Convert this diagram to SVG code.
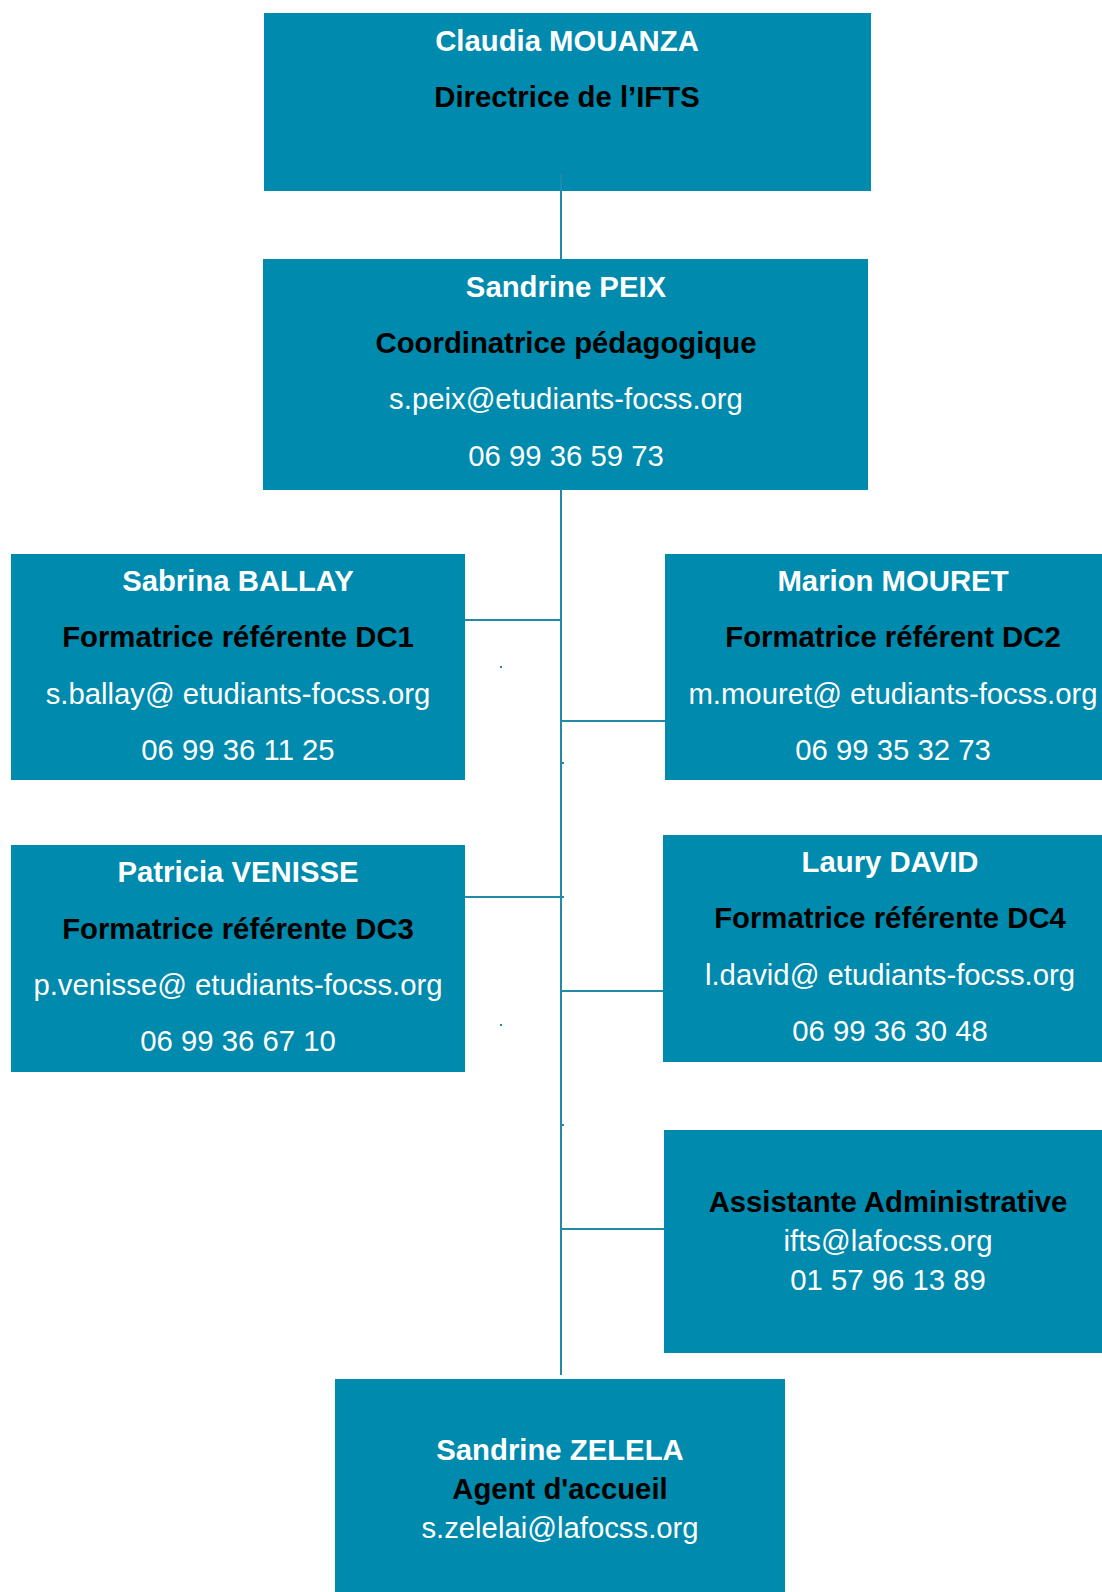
<svg xmlns="http://www.w3.org/2000/svg" width="1102" height="1592" viewBox="0 0 1102 1592">
<style>
.box{fill:#008aad}
.t{font-family:"Liberation Sans",Arial,sans-serif;font-size:29.3px;text-anchor:middle}
.n{fill:#ffffff;font-weight:bold}
.r{fill:#000000;font-weight:bold}
.c{fill:#ffffff}
.ln{stroke:#2289a8;stroke-width:2;fill:none}
.dot{fill:#2289a8}
</style>
<rect width="1102" height="1592" fill="#ffffff"/>
<g id="node-mouanza">
<rect class="box" x="264" y="13" width="607" height="178"/>
<text class="t n" x="567" y="51">Claudia MOUANZA</text>
<text class="t r" x="567" y="107">Directrice de l’IFTS</text>
</g>
<g id="node-peix">
<rect class="box" x="263" y="259" width="605" height="231"/>
<text class="t n" x="566" y="297">Sandrine PEIX</text>
<text class="t r" x="566" y="353">Coordinatrice pédagogique</text>
<text class="t c" x="566" y="409">s.peix@etudiants-focss.org</text>
<text class="t c" x="566" y="466">06 99 36 59 73</text>
</g>
<g id="node-ballay">
<rect class="box" x="11" y="554" width="454" height="226"/>
<text class="t n" x="238" y="591">Sabrina BALLAY</text>
<text class="t r" x="238" y="647">Formatrice référente DC1</text>
<text class="t c" x="238" y="704">s.ballay@ etudiants-focss.org</text>
<text class="t c" x="238" y="760">06 99 36 11 25</text>
</g>
<g id="node-mouret">
<rect class="box" x="665" y="554" width="437" height="226"/>
<text class="t n" x="893" y="591">Marion MOURET</text>
<text class="t r" x="893" y="647">Formatrice référent DC2</text>
<text class="t c" x="893" y="704">m.mouret@ etudiants-focss.org</text>
<text class="t c" x="893" y="760">06 99 35 32 73</text>
</g>
<g id="node-venisse">
<rect class="box" x="11" y="845" width="454" height="227"/>
<text class="t n" x="238" y="882">Patricia VENISSE</text>
<text class="t r" x="238" y="939">Formatrice référente DC3</text>
<text class="t c" x="238" y="995">p.venisse@ etudiants-focss.org</text>
<text class="t c" x="238" y="1051">06 99 36 67 10</text>
</g>
<g id="node-david">
<rect class="box" x="663" y="835" width="439" height="227"/>
<text class="t n" x="890" y="872">Laury DAVID</text>
<text class="t r" x="890" y="928">Formatrice référente DC4</text>
<text class="t c" x="890" y="985">l.david@ etudiants-focss.org</text>
<text class="t c" x="890" y="1041">06 99 36 30 48</text>
</g>
<g id="node-assistante">
<rect class="box" x="664" y="1130" width="438" height="223"/>
<text class="t r" x="888" y="1212">Assistante Administrative</text>
<text class="t c" x="888" y="1251">ifts@lafocss.org</text>
<text class="t c" x="888" y="1290">01 57 96 13 89</text>
</g>
<g id="node-zelela">
<rect class="box" x="335" y="1379" width="450" height="213"/>
<text class="t n" x="560" y="1460">Sandrine ZELELA</text>
<text class="t r" x="560" y="1499">Agent d'accueil</text>
<text class="t c" x="560" y="1538">s.zelelai@lafocss.org</text>
</g>
<g id="connectors">
<line class="ln" x1="561" y1="174" x2="561" y2="259"/>
<line class="ln" x1="561" y1="490" x2="561" y2="1375"/>
<line class="ln" x1="465" y1="620" x2="561" y2="620"/>
<line class="ln" x1="561" y1="721" x2="665" y2="721"/>
<line class="ln" x1="465" y1="897" x2="564" y2="897"/>
<line class="ln" x1="561" y1="991" x2="663" y2="991"/>
<line class="ln" x1="561" y1="1229" x2="664" y2="1229"/>
<rect class="dot" x="500" y="666" width="2" height="2"/>
<rect class="dot" x="562" y="762" width="2" height="2"/>
<rect class="dot" x="500" y="1024" width="2" height="2"/>
<rect class="dot" x="562" y="1124" width="2" height="2"/>
</g>
</svg>
